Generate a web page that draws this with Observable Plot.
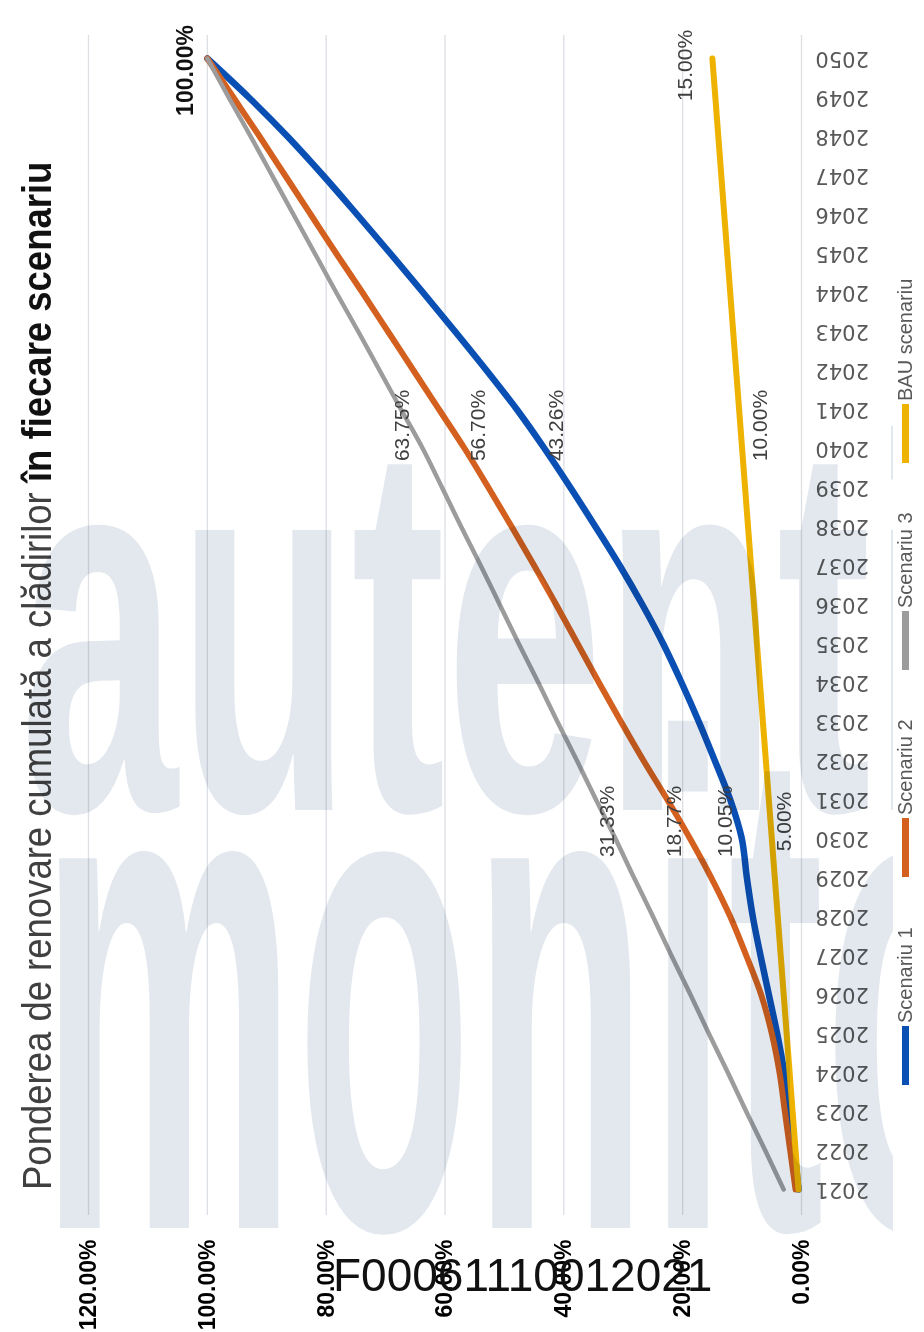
<!DOCTYPE html>
<html>
<head>
<meta charset="utf-8">
<script src="https://cdn.jsdelivr.net/npm/d3@7"></script>
<script src="https://cdn.jsdelivr.net/npm/@observablehq/plot@0.6"></script>
<style>
html, body { margin: 0; padding: 0; background: #fff; }
body { width: 924px; height: 1332px; position: relative; overflow: hidden; }
#chart { position: absolute; left: 0; top: 0; width: 1332px; height: 924px; transform-origin: 0 0;
  transform: translate(0, 1332px) rotate(-90deg); font-family: "Liberation Sans", Arial, sans-serif; }
#title { position: absolute; left: 142px; top: 17px; font-size: 41px; line-height: 41px; white-space: nowrap;
  transform: scaleX(0.89); transform-origin: 0 0; color: #404040; }
#title b { color: #111; }
#plot { position: absolute; left: 0; top: 70px; }
.legend-item { position: absolute; top: 894px; height: 22px; display: flex; align-items: center;
  font-size: 20px; line-height: 22px; color: #595959; white-space: nowrap; }
.swatch { width: 59px; height: 7px; margin-right: 3px; }
#overlay { position: absolute; left: 0; top: 0; pointer-events: none; mix-blend-mode: multiply; }
#code { position: absolute; left: 333px; top: 1253px; font: 46px/45px "Liberation Sans", Arial, sans-serif; color: #111; white-space: nowrap; }
</style>
</head>
<body>
<div id="chart">
  <div id="title">Ponderea de renovare cumulată a clădirilor <b>în fiecare scenariu</b></div>
  <div id="plot"></div>
  <div id="legend"></div>
</div>
<svg id="overlay" width="924" height="1332">
  <defs><clipPath id="wmclip"><rect x="0" y="0" width="893" height="1332"></rect></clipPath></defs>
  <g clip-path="url(#wmclip)" fill="#e3e8ee" font-family="Liberation Sans, Arial, sans-serif" font-weight="bold">
    <text x="20" y="810" font-size="530" textLength="930" lengthAdjust="spacingAndGlyphs">autenti</text>
    <text x="40" y="1228" font-size="700" textLength="960" lengthAdjust="spacingAndGlyphs">monito</text>
  </g>
</svg>
<div id="code">F00061110012021</div>
<script>
// ---- data ----
const years = [2021, 2022, 2023, 2024, 2025, 2026, 2027, 2028, 2029, 2030,
               2031, 2032, 2033, 2034, 2035, 2036, 2037, 2038, 2039, 2040,
               2041, 2042, 2043, 2044, 2045, 2046, 2047, 2048, 2049, 2050];
const seriesNames = ["Scenariu 1", "Scenariu 2", "Scenariu 3", "BAU scenariu"];
const scenario1 = [0.5, 1.2, 2.0, 2.9, 4.1, 5.5, 6.9, 8.2, 9.2, 10.05,
                   12.0, 14.6, 17.3, 20.2, 23.3, 26.8, 30.6, 34.7, 38.9, 43.26,
                   47.9, 53.0, 58.3, 63.7, 69.2, 74.8, 80.5, 86.5, 93.0, 100];
const scenario2 = [1.0, 1.9, 2.8, 3.7, 5.0, 6.8, 9.3, 12.0, 15.2, 18.77,
                   22.6, 26.6, 30.4, 34.1, 37.7, 41.3, 45.0, 48.8, 52.7, 56.70,
                   61.0, 65.3, 69.6, 73.9, 78.3, 82.6, 86.9, 91.2, 95.6, 100];
const scenario3 = [3.0, 6.1, 9.3, 12.4, 15.6, 18.7, 21.9, 25.0, 28.2, 31.33,
                   34.6, 37.8, 41.1, 44.3, 47.6, 50.8, 54.0, 57.3, 60.5, 63.75,
                   67.4, 71.0, 74.6, 78.3, 81.9, 85.5, 89.1, 92.7, 96.4, 100];
const bau = [0.5, 1.0, 1.5, 2.0, 2.5, 3.0, 3.5, 4.0, 4.5, 5.0,
             5.5, 6.0, 6.5, 7.0, 7.5, 8.0, 8.5, 9.0, 9.5, 10.0,
             10.5, 11.0, 11.5, 12.0, 12.5, 13.0, 13.5, 14.0, 14.5, 15.0];
const valueTicks = [0, 20, 40, 60, 80, 100, 120];

// ---- styles ----
const seriesColors = ["#0a50b4", "#d4601f", "#9c9c9c", "#eeb200"];
const seriesWidths = [6.5, 6, 4.5, 6];

const rows = [];
[scenario1, scenario2, scenario3, bau].forEach((vals, i) =>
  vals.forEach((v, j) => rows.push({series: seriesNames[i], year: years[j], value: v})));

const pick = (s, y) => rows.filter(d => d.series === s && d.year === y);
const pct = d => d.value.toFixed(2) + "%";
const lbl = (s, y, dx, dy, extra = {}) =>
  Plot.text(pick(s, y), {x: "year", y: "value", text: pct, dx, dy, fontSize: 21, fill: "#404040", ...extra});

const chart = Plot.plot({
  width: 1332,
  height: 806,
  marginTop: 18,
  marginBottom: 75,
  marginLeft: 117,
  marginRight: 35,
  style: {fontFamily: "Liberation Sans, Arial, sans-serif", background: "transparent", overflow: "visible"},
  x: {type: "point", domain: years, padding: 0.5, axis: null, label: null},
  y: {domain: [0, 120], axis: null, label: null},
  marks: [
    Plot.gridY(valueTicks, {stroke: "#dcdfe4", strokeOpacity: 1, strokeWidth: 1.3}),
    Plot.axisY(valueTicks, {tickSize: 0, tickPadding: 25, label: null, tickFormat: d => d.toFixed(2) + "%",
      fontSize: 23, fontWeight: "bold", color: "#000"}),
    Plot.axisX(years, {tickRotate: -90, tickSize: 0, tickPadding: 14, label: null, tickFormat: d => String(d),
      fontSize: 21, fontFamily: "DejaVu Sans", color: "#595959"}),
    ...seriesNames.map((s, i) => Plot.line(rows.filter(d => d.series === s),
      {x: "year", y: "value", stroke: seriesColors[i], strokeWidth: seriesWidths[i], curve: "monotone-x"})),
    lbl("Scenariu 3", 2030, 17, -8),
    lbl("Scenariu 2", 2030, 17, -16),
    lbl("Scenariu 1", 2030, 17, -17),
    lbl("BAU scenariu", 2030, 17, 12),
    lbl("Scenariu 3", 2040, 23, -20),
    lbl("Scenariu 2", 2040, 23, 14),
    lbl("Scenariu 1", 2040, 23, 12),
    lbl("BAU scenariu", 2040, 23, 18),
    lbl("Scenariu 3", 2050, -12, -22, {fontWeight: "bold", fill: "#111", fontSize: 23}),
    lbl("BAU scenariu", 2050, -7, -27)
  ]
});
document.getElementById("plot").appendChild(chart);

// legend
const legendX = [247, 455, 662, 869];
const legend = document.getElementById("legend");
seriesNames.forEach((s, i) => {
  const item = document.createElement("div");
  item.className = "legend-item";
  item.style.left = legendX[i] + "px";
  const sw = document.createElement("span");
  sw.className = "swatch";
  sw.style.background = seriesColors[i];
  item.appendChild(sw);
  item.appendChild(document.createTextNode(s));
  legend.appendChild(item);
});
</script>
</body>
</html>
